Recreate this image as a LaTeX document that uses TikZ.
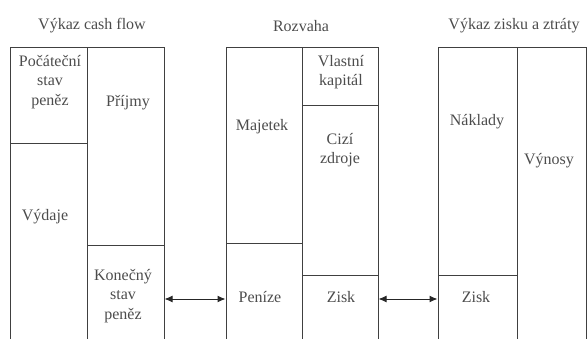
\documentclass[tikz,border=0pt]{standalone}
\usepackage{fontspec}
\setmainfont{Liberation Serif}
\usetikzlibrary{arrows.meta,fit}
\begin{document}
\begin{tikzpicture}[x=1pt,y=-1pt,
  cellbox/.style={draw=black!75, line width=1pt, inner sep=0pt, fit={#1}},
  lbl/.style={text=black!70, font=\fontsize{16}{19.5}\selectfont, align=center, inner sep=0pt},
  ttl/.style={text=black!70, font=\fontsize{16}{19}\selectfont, inner sep=0pt},
  link/.style={draw=black!85, line width=1pt, {Latex[length=8pt,width=7pt]}-{Latex[length=8pt,width=7pt]}}]
  \useasboundingbox (0,0) rectangle (587,338);

  % Výkaz cash flow
  \node[cellbox={(10,47) (87,143)}]   (pocatecni) {};
  \node[cellbox={(10,143) (87,350)}]  (vydaje) {};
  \node[cellbox={(87,47) (164,245)}]  (prijmy) {};
  \node[cellbox={(87,245) (164,350)}] (konecny) {};

  % Rozvaha
  \node[cellbox={(226,47) (302,243)}]  (majetek) {};
  \node[cellbox={(226,243) (302,350)}] (penize) {};
  \node[cellbox={(302,47) (378,105)}]  (vlastni) {};
  \node[cellbox={(302,105) (378,275)}] (cizi) {};
  \node[cellbox={(302,275) (378,350)}] (ziskr) {};

  % Výkaz zisku a ztráty
  \node[cellbox={(438,47) (517,275)}]  (naklady) {};
  \node[cellbox={(438,275) (517,350)}] (ziskv) {};
  \node[cellbox={(517,47) (586.5,350)}] (vynosy) {};

  % column headings
  \node[ttl] (tcf) at (92,26)  {Výkaz cash flow};
  \node[ttl] (trz) at (301,26) {Rozvaha};
  \node[ttl] (tvz) at (514,26) {Výkaz zisku a ztráty};

  % cell texts
  \node[lbl] (lpoc) at (50,82)   {Počáteční\\stav\\peněz};
  \node[lbl] (lpri) at (128,103) {Příjmy};
  \node[lbl] (lvyd) at (45,217)  {Výdaje};
  \node[lbl] (lkon) at (123,296) {Konečný\\stav\\peněz};
  \node[lbl] (lvla) at (341,72)  {Vlastní\\kapitál};
  \node[lbl] (lmaj) at (262,127) {Majetek};
  \node[lbl] (lciz) at (340,150) {Cizí\\zdroje};
  \node[lbl] (lpen) at (260,297) {Peníze};
  \node[lbl] (lzr)  at (341,297) {Zisk};
  \node[lbl] (lnak) at (477,122) {Náklady};
  \node[lbl] (lvyn) at (549,161) {Výnosy};
  \node[lbl] (lzv)  at (476,297) {Zisk};

  % links between the statements
  \coordinate (ay) at (0,299);
  \draw[link] (konecny.east |- ay) -- (penize.west |- ay);
  \draw[link] (ziskr.east |- ay) -- (ziskv.west |- ay);
\end{tikzpicture}
\end{document}
